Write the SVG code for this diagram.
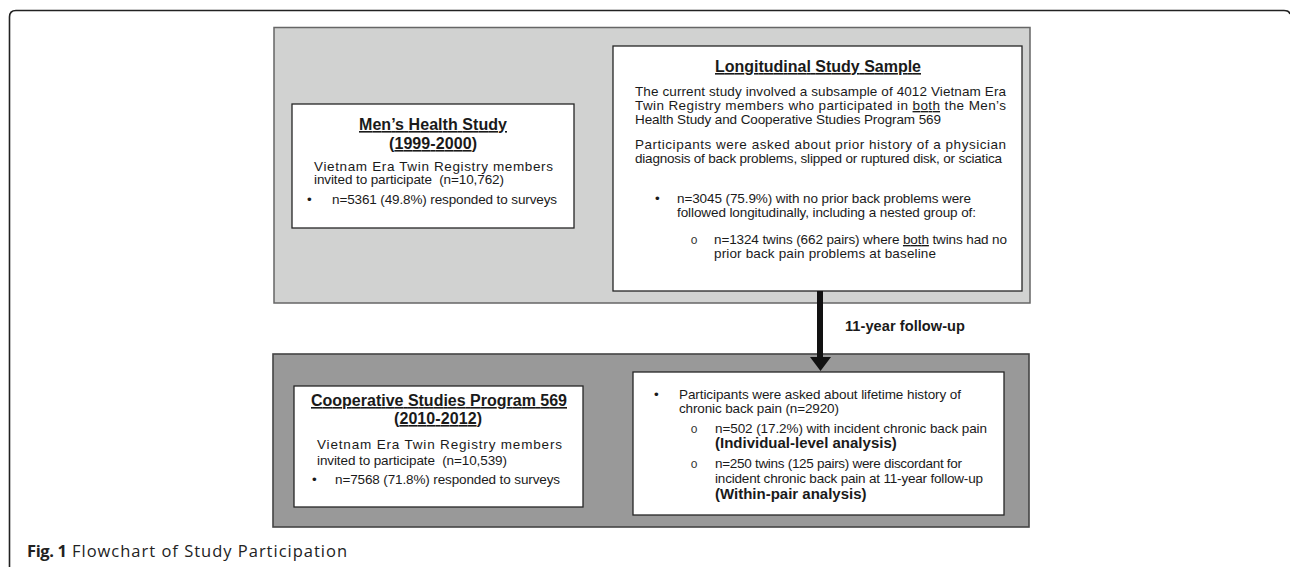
<svg xmlns="http://www.w3.org/2000/svg" width="1290" height="567" viewBox="0 0 1290 567">
<defs>
<style>
.t{font-family:"Liberation Sans",Arial,sans-serif;font-size:13.5px;fill:#1a1a1a}
.b{font-family:"Liberation Sans",Arial,sans-serif;font-size:15px;font-weight:bold;fill:#1a1a1a}
.h{font-family:"Liberation Sans",Arial,sans-serif;font-size:16px;font-weight:bold;fill:#1a1a1a;text-anchor:middle;text-decoration:underline}
.u{text-decoration:underline}
.o{font-family:"Liberation Mono","Courier New",monospace;font-size:12px;fill:#333}
.box{fill:#fff;stroke:#262626;stroke-width:1.3}
.cap{font-family:"Open Sans","Noto Sans",sans-serif;font-size:16.5px;fill:#222}
</style>
</defs>
<rect width="1290" height="567" fill="#fff"/>
<path d="M9.5,567 V17 Q9.5,10.5 16,10.5 H1284 Q1289,10.5 1290,14" fill="none" stroke="#222" stroke-width="1.6"/>

<g id="panel-top">
<rect x="274" y="27.5" width="756" height="275.5" fill="#d1d2d1" stroke="#666" stroke-width="1.5"/>
</g>
<g id="panel-bottom">
<rect x="273" y="354" width="756" height="173" fill="#999" stroke="#444" stroke-width="1.6"/>
</g>

<g id="mens-health">
<rect class="box" x="292" y="104" width="282" height="124"/>
<text class="h" x="433" y="130" textLength="148">Men’s Health Study</text>
<text class="h" x="433" y="149" textLength="88">(1999-2000)</text>
<text class="t" x="314" y="171" textLength="239">Vietnam Era Twin Registry members</text>
<text class="t" x="314" y="184" textLength="190" xml:space="preserve">invited to participate  (n=10,762)</text>
<text class="t" x="307" y="204">•</text>
<text class="t" x="332" y="204" textLength="225">n=5361 (49.8%) responded to surveys</text>
</g>

<g id="longitudinal">
<rect class="box" x="613" y="46" width="409" height="245"/>
<text class="h" x="818" y="72" textLength="206">Longitudinal Study Sample</text>
<text class="t" x="635" y="96" textLength="371">The current study involved a subsample of 4012 Vietnam Era</text>
<text class="t" x="635" y="110" textLength="371">Twin Registry members who participated in <tspan class="u">both</tspan> the Men’s</text>
<text class="t" x="635" y="124" textLength="306">Health Study and Cooperative Studies Program 569</text>
<text class="t" x="635" y="149" textLength="371">Participants were asked about prior history of a physician</text>
<text class="t" x="635" y="163" textLength="367">diagnosis of back problems, slipped or ruptured disk, or sciatica</text>
<text class="t" x="655" y="203">•</text>
<text class="t" x="677" y="203" textLength="294">n=3045 (75.9%) with no prior back problems were</text>
<text class="t" x="677" y="217" textLength="299">followed longitudinally, including a nested group of:</text>
<text class="o" x="690.5" y="244">o</text>
<text class="t" x="714" y="244" textLength="293">n=1324 twins (662 pairs) where <tspan class="u">both</tspan> twins had no</text>
<text class="t" x="714" y="258" textLength="222">prior back pain problems at baseline</text>
</g>

<g id="csp569">
<rect class="box" x="294" y="386" width="289" height="121"/>
<text class="h" x="439" y="406" textLength="256">Cooperative Studies Program 569</text>
<text class="h" x="438" y="424" textLength="88">(2010-2012)</text>
<text class="t" x="317" y="449" textLength="245">Vietnam Era Twin Registry members</text>
<text class="t" x="317" y="465" textLength="190" xml:space="preserve">invited to participate  (n=10,539)</text>
<text class="t" x="312" y="484">•</text>
<text class="t" x="335" y="484" textLength="225">n=7568 (71.8%) responded to surveys</text>
</g>

<g id="followup-results">
<rect class="box" x="633" y="372" width="371" height="143"/>
<text class="t" x="654" y="399">•</text>
<text class="t" x="679" y="399" textLength="282">Participants were asked about lifetime history of</text>
<text class="t" x="679" y="413" textLength="160">chronic back pain (n=2920)</text>
<text class="o" x="690.5" y="433">o</text>
<text class="t" x="715" y="433" textLength="272">n=502 (17.2%) with incident chronic back pain</text>
<text class="b" x="715" y="448">(Individual-level analysis)</text>
<text class="o" x="690.5" y="468">o</text>
<text class="t" x="715" y="468" textLength="247">n=250 twins (125 pairs) were discordant for</text>
<text class="t" x="715" y="483" textLength="268">incident chronic back pain at 11-year follow-up</text>
<text class="b" x="715" y="499">(Within-pair analysis)</text>
</g>

<g id="connectors">
<rect x="817" y="291" width="6" height="67" fill="#111"/>
<polygon points="810,357 831,357 820.5,371" fill="#111"/>
<text class="b" x="845" y="331" textLength="120" style="font-size:14.6px">11-year follow-up</text>
</g>

<g id="caption">
<text class="cap" x="27" y="557" font-weight="bold" textLength="40">Fig. 1</text>
<text class="cap" x="72" y="557" textLength="275">Flowchart of Study Participation</text>
</g>
</svg>
